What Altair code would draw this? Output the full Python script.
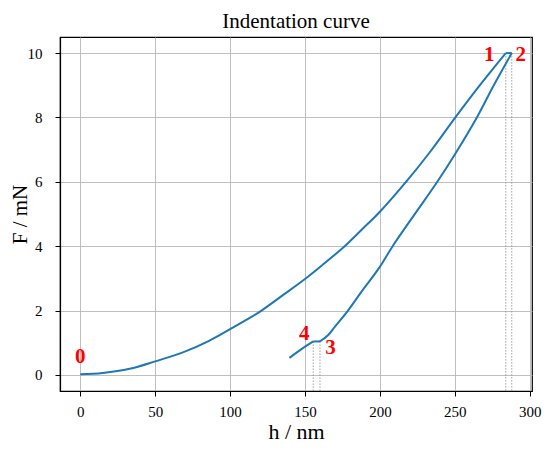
import altair as alt
import pandas as pd

# indentation path segments: loading 0->1, hold 1->2, unloading 2->3, hold 3->4, final unloading
load_h = [0, 15, 33, 50, 68.5, 86, 100, 110.5, 121, 135, 150, 163, 176.5, 188, 200, 218.4, 233.8, 250, 267, 284]
load_F = [0.02, 0.06, 0.19, 0.42, 0.70, 1.06, 1.42, 1.70, 2.0, 2.47, 2.98, 3.47, 4.0, 4.52, 5.07, 6.05, 6.95, 7.98, 9.02, 10.0]
hold1_h = [284, 288]
hold1_F = [10.0, 10.0]
unload_h = [288, 276, 264.7, 250, 238.3, 223, 208.5, 199.7, 187.5, 178.7, 170, 165.5, 160]
unload_F = [10.0, 9.0, 8.0, 6.85, 6.0, 4.98, 4.0, 3.34, 2.57, 2.0, 1.5, 1.24, 1.04]
hold2_h = [160, 155.5]
hold2_F = [1.04, 1.04]
final_h = [155.5, 147, 139.6]
final_F = [1.04, 0.78, 0.53]

mark_h = [284, 288, 160, 155.5]
mark_F = [10.0, 10.0, 1.04, 1.04]

label_text = ["0", "1", "2", "3", "4"]
label_h = [0, 273, 294, 167, 149.5]
label_F = [0.55, 9.95, 9.95, 0.85, 1.27]

x_ticks = [0, 50, 100, 150, 200, 250, 300]
y_ticks = [0, 2, 4, 6, 8, 10]

W, H = 472, 354
SERIF = "Liberation Serif"

rows = []
for seg, (hs, fs) in enumerate([(load_h, load_F), (hold1_h, hold1_F), (unload_h, unload_F),
                                (hold2_h, hold2_F), (final_h, final_F)]):
    for i, (h, f) in enumerate(zip(hs, fs)):
        rows.append({"seg": seg, "i": i, "h": h, "F": f})
df_path = pd.DataFrame(rows)
df_marks = pd.DataFrame({"h": mark_h, "F": mark_F})
df_labels = pd.DataFrame({"t": label_text, "h": label_h, "F": label_F})

xscale = alt.Scale(domain=[-13.5, 301.5], nice=False, zero=False)
yscale = alt.Scale(domain=[-0.5, 10.5], nice=False, zero=False)

common = dict(grid=True, format="d", labelFont=SERIF, labelFontSize=15, labelColor="black",
              titleFont=SERIF, titleFontWeight="normal", titleColor="black",
              titleBaseline="alphabetic")
xaxis = alt.Axis(title="h / nm", values=x_ticks, labelPadding=8, titleY=47, titleFontSize=22, **common)
yaxis = alt.Axis(title="F / mN", values=y_ticks, labelPadding=13, titleX=-34, titleFontSize=21, **common)

line = alt.Chart(df_path).mark_line(color="#1f77b4", strokeWidth=2, interpolate="catmull-rom").encode(
    x=alt.X("h:Q", scale=xscale, axis=xaxis),
    y=alt.Y("F:Q", scale=yscale, axis=yaxis),
    detail="seg:N",
    order=alt.Order("i:Q"),
)

drops = alt.Chart(df_marks).mark_rule(color="#888888", strokeWidth=0.8, strokeDash=[1.5, 1.5]).encode(
    x=alt.X("h:Q", scale=xscale),
    y=alt.Y("F:Q", scale=yscale),
    y2=alt.value(H),
)

labels = alt.Chart(df_labels).mark_text(
    color="#ff0000", font=SERIF, fontSize=21, fontWeight="bold", baseline="middle", align="center"
).encode(
    x=alt.X("h:Q", scale=xscale),
    y=alt.Y("F:Q", scale=yscale),
    text="t:N",
)

chart = (drops + line + labels).properties(
    width=W, height=H,
    title=alt.TitleParams("Indentation curve", font=SERIF, fontSize=21, fontWeight="normal",
                          color="black", offset=5, anchor="middle"),
    autosize=alt.AutoSizeParams(type="none"),
    padding={"left": 52, "top": 29, "right": 10, "bottom": 51},
).configure_view(
    stroke="black", strokeWidth=1.2
).configure_axis(
    domainColor="black", domainWidth=1.2,
    tickColor="black", tickSize=5, tickWidth=1,
    gridColor="#b8b8b8", gridWidth=0.9,
)

chart.save("out.html", embed_options={"renderer": "svg", "actions": False})
